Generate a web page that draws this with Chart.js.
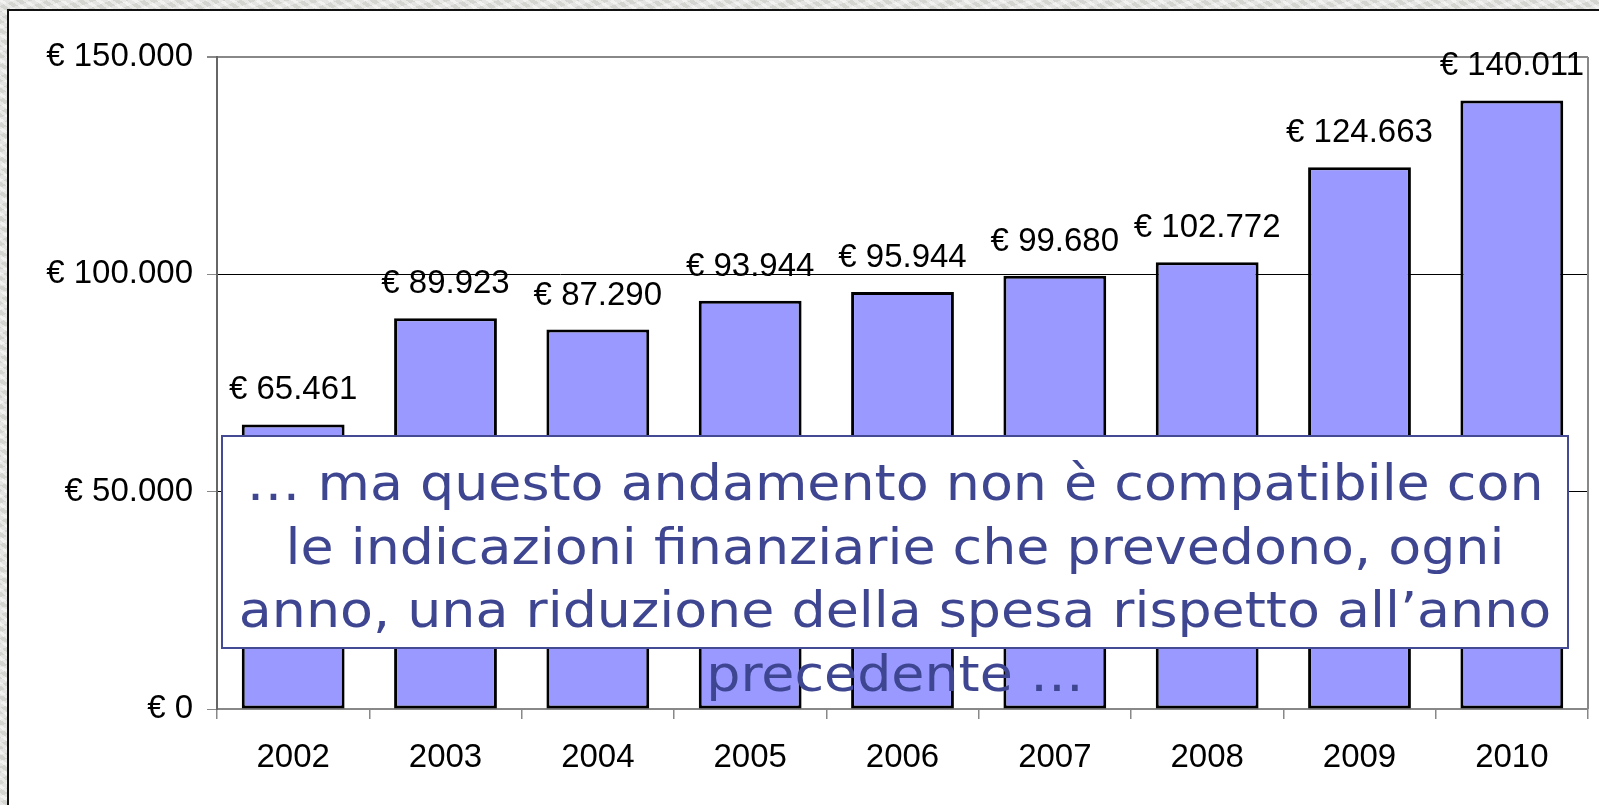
<!DOCTYPE html>
<html>
<head>
<meta charset="utf-8">
<script src="https://cdn.jsdelivr.net/npm/chart.js@4"></script>
<style>
  html, body { margin: 0; padding: 0; }
  body {
    width: 1599px; height: 805px; overflow: hidden; position: relative;
    background-color: #e4e4e1;
    background-image:
      repeating-linear-gradient(35deg, rgba(255,255,255,0.35) 0 3px, rgba(0,0,0,0.03) 3px 7px),
      repeating-linear-gradient(-20deg, rgba(255,255,255,0.25) 0 5px, rgba(0,0,0,0.04) 5px 11px);
  }
  #frame {
    position: absolute; left: 7px; top: 9px; width: 1700px; height: 900px;
    background: #ffffff; border: 2px solid #111;
  }
  #wrap { position: absolute; left: 0; top: 0; width: 1599px; height: 805px; }
</style>
</head>
<body>
<div id="frame"></div>
<div id="wrap"><canvas id="c" width="1599" height="805"></canvas></div>
<script>
// ---- data ----
const categories = ['2002', '2003', '2004', '2005', '2006', '2007', '2008', '2009', '2010'];
const spending = [65461, 89923, 87290, 93944, 95944, 99680, 102772, 124663, 140011];
const valueLabels = ['€ 65.461', '€ 89.923', '€ 87.290', '€ 93.944', '€ 95.944', '€ 99.680', '€ 102.772', '€ 124.663', '€ 140.011'];
const yTickValues = [0, 50000, 100000, 150000];
const yTickLabels = ['€ 0', '€ 50.000', '€ 100.000', '€ 150.000'];
const noteLines = [
  '… ma questo andamento non è compatibile con',
  'le indicazioni finanziarie che prevedono, ogni',
  'anno, una riduzione della spesa rispetto all’anno',
  'precedente …'
];

const ARIAL = '"Liberation Sans", Arial, sans-serif';
Chart.defaults.font.family = ARIAL;
Chart.defaults.color = '#000';

const valueLabelPlugin = {
  id: 'valueLabels',
  afterDatasetsDraw(chart) {
    const ctx = chart.ctx;
    const meta = chart.getDatasetMeta(0);
    ctx.save();
    ctx.font = '33px ' + ARIAL;
    ctx.fillStyle = '#000';
    ctx.textAlign = 'center';
    ctx.textBaseline = 'alphabetic';
    meta.data.forEach((bar, i) => {
      ctx.fillText(valueLabels[i], bar.x, bar.y - 25);
    });
    ctx.restore();
  }
};

const borderPlugin = {
  id: 'rightBorder',
  beforeDatasetsDraw(chart) {
    const { ctx, chartArea } = chart;
    ctx.save();
    ctx.strokeStyle = '#888';
    ctx.lineWidth = 2;
    ctx.beginPath();
    ctx.moveTo(chartArea.right, chartArea.top);
    ctx.lineTo(chartArea.right, chartArea.bottom);
    ctx.stroke();
    ctx.restore();
  }
};

const notePlugin = {
  id: 'noteBox',
  afterDraw(chart) {
    const { ctx, chartArea } = chart;
    const left = chartArea.left + 5, right = chartArea.right - 20;
    const top = 436, bottom = 648;
    ctx.save();
    ctx.fillStyle = '#fff';
    ctx.fillRect(left, top, right - left, bottom - top);
    ctx.strokeStyle = '#444b94';
    ctx.lineWidth = 2;
    ctx.strokeRect(left, top, right - left, bottom - top);
    ctx.font = '50px "DejaVu Sans", sans-serif';
    ctx.fillStyle = '#3f4691';
    ctx.textAlign = 'center';
    ctx.textBaseline = 'alphabetic';
    const w0 = ctx.measureText(noteLines[0]).width;
    const sx = 1297 / w0;
    const cx = (left + right) / 2;
    const baselines = [500, 564, 627, 691];
    noteLines.forEach((line, i) => {
      ctx.save();
      ctx.translate(cx, baselines[i]);
      ctx.scale(sx, 1);
      ctx.fillText(line, 0, 0);
      ctx.restore();
    });
    ctx.restore();
  }
};

new Chart(document.getElementById('c'), {
  type: 'bar',
  data: {
    labels: categories,
    datasets: [{
      data: spending,
      backgroundColor: '#9999ff',
      borderColor: '#000',
      borderWidth: 3,
      borderSkipped: false,
      barPercentage: 0.675,
      categoryPercentage: 1.0
    }]
  },
  options: {
    responsive: false,
    animation: false,
    devicePixelRatio: 1,
    layout: { padding: { top: 57, right: 11, left: 0, bottom: 0 } },
    plugins: { legend: { display: false }, tooltip: { enabled: false } },
    scales: {
      x: {
        grid: {
          offset: true, drawOnChartArea: false, drawTicks: true,
          tickLength: 10, color: '#888', lineWidth: 1.5
        },
        border: { display: true, color: '#888', width: 2 },
        ticks: { font: { size: 33 }, color: '#000', padding: 19, maxRotation: 0 },
        afterFit(s) { s.height = 96; }
      },
      y: {
        min: 0, max: 150000,
        afterBuildTicks(s) { s.ticks = yTickValues.map(v => ({ value: v })); },
        grid: {
          drawTicks: true, tickLength: 10, tickColor: '#888',
          color: (c) => (c.tick && (c.tick.value === 150000 || c.tick.value === 0)) ? '#888' : '#000',
          lineWidth: (c) => (c.tick && c.tick.value === 150000) ? 2 : 1
        },
        border: { display: true, color: '#666', width: 2 },
        ticks: {
          font: { size: 33 }, color: '#000', padding: 14,
          callback: (v) => yTickLabels[yTickValues.indexOf(v)]
        },
        afterFit(s) { s.width = 217; }
      }
    }
  },
  plugins: [borderPlugin, valueLabelPlugin, notePlugin]
});
</script>
</body>
</html>
